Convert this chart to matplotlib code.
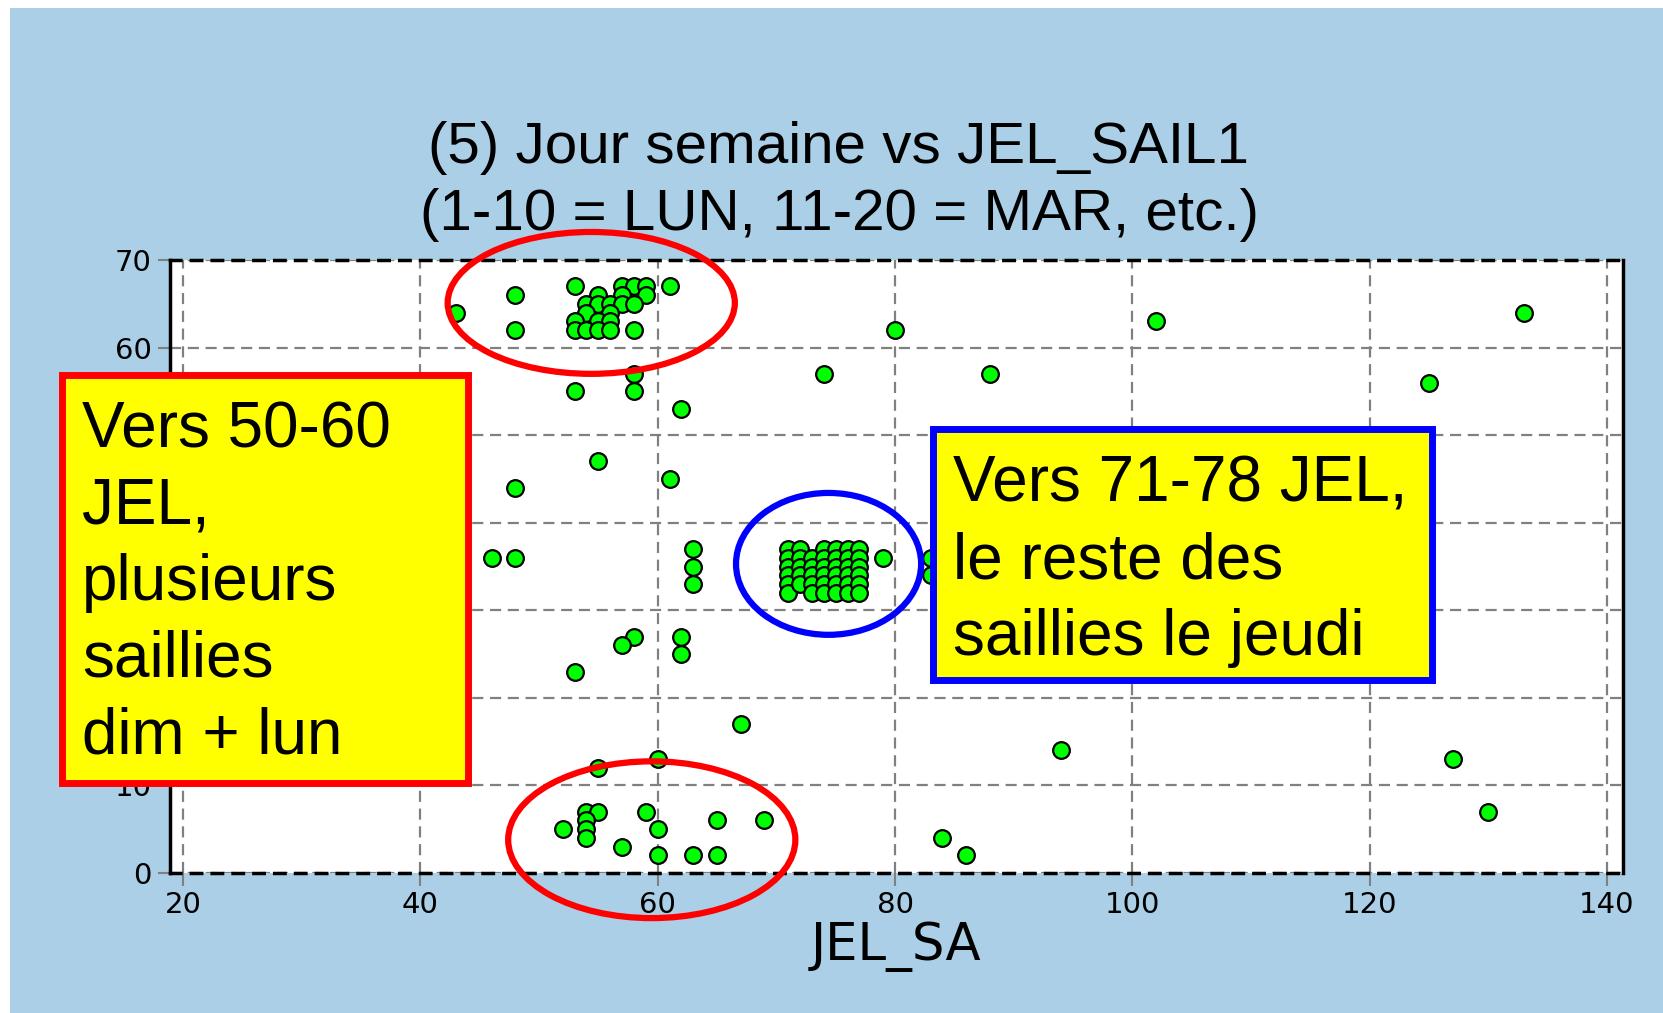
import matplotlib.pyplot as plt
from matplotlib.patches import Ellipse, Rectangle

# scatter data (JEL_SA vs jour semaine code)
jel_top = [43, 48, 48, 53, 55, 57, 58, 59, 57, 59, 54, 55, 56, 57, 58, 54, 56,
           53, 55, 56, 53, 54, 55, 56, 58, 61]
day_top = [64, 66, 62, 67, 66, 67, 67, 67, 66, 66, 65, 65, 65, 65, 65, 64, 64,
           63, 63, 63, 62, 62, 62, 62, 62, 67]

jel_mid = [80, 102, 133, 74, 88, 125, 53, 58, 58, 62, 55, 48, 61, 46, 48,
           63, 63, 63, 79, 83, 83]
day_mid = [62, 63, 64, 57, 57, 56, 55, 57, 55, 53, 47, 44, 45, 36, 36,
           37, 35, 33, 36, 36, 34]

# dense block around 71-77 JEL
jel_block = [71, 71, 71, 71, 71, 71,
             72, 72, 72, 72, 72,
             73, 73, 73, 73, 73,
             74, 74, 74, 74, 74, 74,
             75, 75, 75, 75, 75, 75,
             76, 76, 76, 76, 76, 76,
             77, 77, 77, 77, 77, 77]
day_block = [37, 36, 35, 34, 33, 32,
             37, 36, 35, 34, 33,
             36, 35, 34, 33, 32,
             37, 36, 35, 34, 33, 32,
             37, 36, 35, 34, 33, 32,
             37, 36, 35, 34, 33, 32,
             37, 36, 35, 34, 33, 32]

jel_low = [58, 57, 62, 62, 53, 67, 94, 127, 60, 55, 130,
           52, 54, 55, 54, 54, 54, 57, 59, 60, 60, 63, 65, 65, 69, 84, 86]
day_low = [27, 26, 27, 25, 23, 17, 14, 13, 13, 12, 7,
           5, 7, 7, 6, 5, 4, 3, 7, 5, 2, 2, 6, 2, 6, 4, 2]

x_ticks = [20, 40, 60, 80, 100, 120, 140]
y_ticks = [0, 10, 20, 30, 40, 50, 60, 70]

title_lines = ['(5) Jour semaine vs JEL_SAIL1', '(1-10 = LUN, 11-20 = MAR, etc.)']
left_note = ['Vers 50-60', 'JEL,', 'plusieurs', 'saillies', 'dim + lun']
right_note = ['Vers 71-78 JEL,', 'le reste des', 'saillies le jeudi']

W, H = 1663, 1013
BG = '#abcfe6'

fig = plt.figure(figsize=(W / 100, H / 100), dpi=100, facecolor='white')
# blue panel with a thin white margin top / left
fig.patches.append(Rectangle((10 / W, 0), 1 - 10 / W, 1 - 8 / H, transform=fig.transFigure,
                             facecolor=BG, edgecolor='none', zorder=-10))

ax = fig.add_axes([170 / W, 1 - 873 / H, 1453 / W, 613 / H])
ax.set_facecolor('white')

xs = jel_top + jel_mid + jel_block + jel_low
ys = day_top + day_mid + day_block + day_low
ax.plot(xs, ys, 'o', color='#00ff00', markersize=12, markeredgecolor='black',
        markeredgewidth=1.6, zorder=3, clip_on=False)

ax.set_xlim(18.9, 141.35)
ax.set_ylim(0, 70)
ax.set_xticks(x_ticks)
ax.set_yticks(y_ticks)
ax.grid(True, color='#808080', linestyle=(0, (5, 3)), linewidth=1.6, zorder=1)
ax.set_axisbelow(True)

for side in ['left', 'right']:
    ax.spines[side].set_linewidth(2.5)
    ax.spines[side].set_color('black')
for side in ['top', 'bottom']:
    ax.spines[side].set_linewidth(2.5)
    ax.spines[side].set_color('black')
    ax.spines[side].set_linestyle((0, (3, 3)))

ax.tick_params(axis='both', direction='out', length=9, width=1.5, color='#808080',
               labelsize=21, labelcolor='black', pad=4)
ax.set_xlabel('JEL_SA', fontsize=37, labelpad=2)

# highlight ellipses
ax.add_patch(Ellipse((54.4, 65.1), 24.2, 16.2, fill=False, edgecolor='#ff0000',
                     linewidth=4.5, clip_on=False, zorder=5))
ax.add_patch(Ellipse((59.5, 3.8), 24.2, 17.9, fill=False, edgecolor='#ff0000',
                     linewidth=4.5, clip_on=False, zorder=5))
ax.add_patch(Ellipse((74.4, 35.3), 15.6, 16.2, fill=False, edgecolor='#0000ff',
                     linewidth=4.5, clip_on=False, zorder=5))

# title, centred on the panel
for i, line in enumerate(title_lines):
    fig.text(839 / W, 1 - (163 + 67 * i) / H, line, ha='center', va='baseline',
             fontsize=42, family='Liberation Sans')

# yellow note boxes
fig.patches.append(Rectangle((61.5 / W, 1 - 782.5 / H), 406 / W, 407 / H,
                             transform=fig.transFigure, facecolor='#ffff00',
                             edgecolor='#ff0000', linewidth=5, zorder=6))
fig.patches.append(Rectangle((933.5 / W, 1 - 679.5 / H), 499 / W, 251 / H,
                             transform=fig.transFigure, facecolor='#ffff00',
                             edgecolor='#0000ff', linewidth=5, zorder=6))
for i, line in enumerate(left_note):
    fig.text(82 / W, 1 - (447 + 76.5 * i) / H, line, ha='left', va='baseline',
             fontsize=46, family='Liberation Sans', zorder=7)
for i, line in enumerate(right_note):
    fig.text(953 / W, 1 - (502 + 76.5 * i) / H, line, ha='left', va='baseline',
             fontsize=46, family='Liberation Sans', zorder=7)

fig.savefig('out.png', dpi=100, facecolor=fig.get_facecolor())
